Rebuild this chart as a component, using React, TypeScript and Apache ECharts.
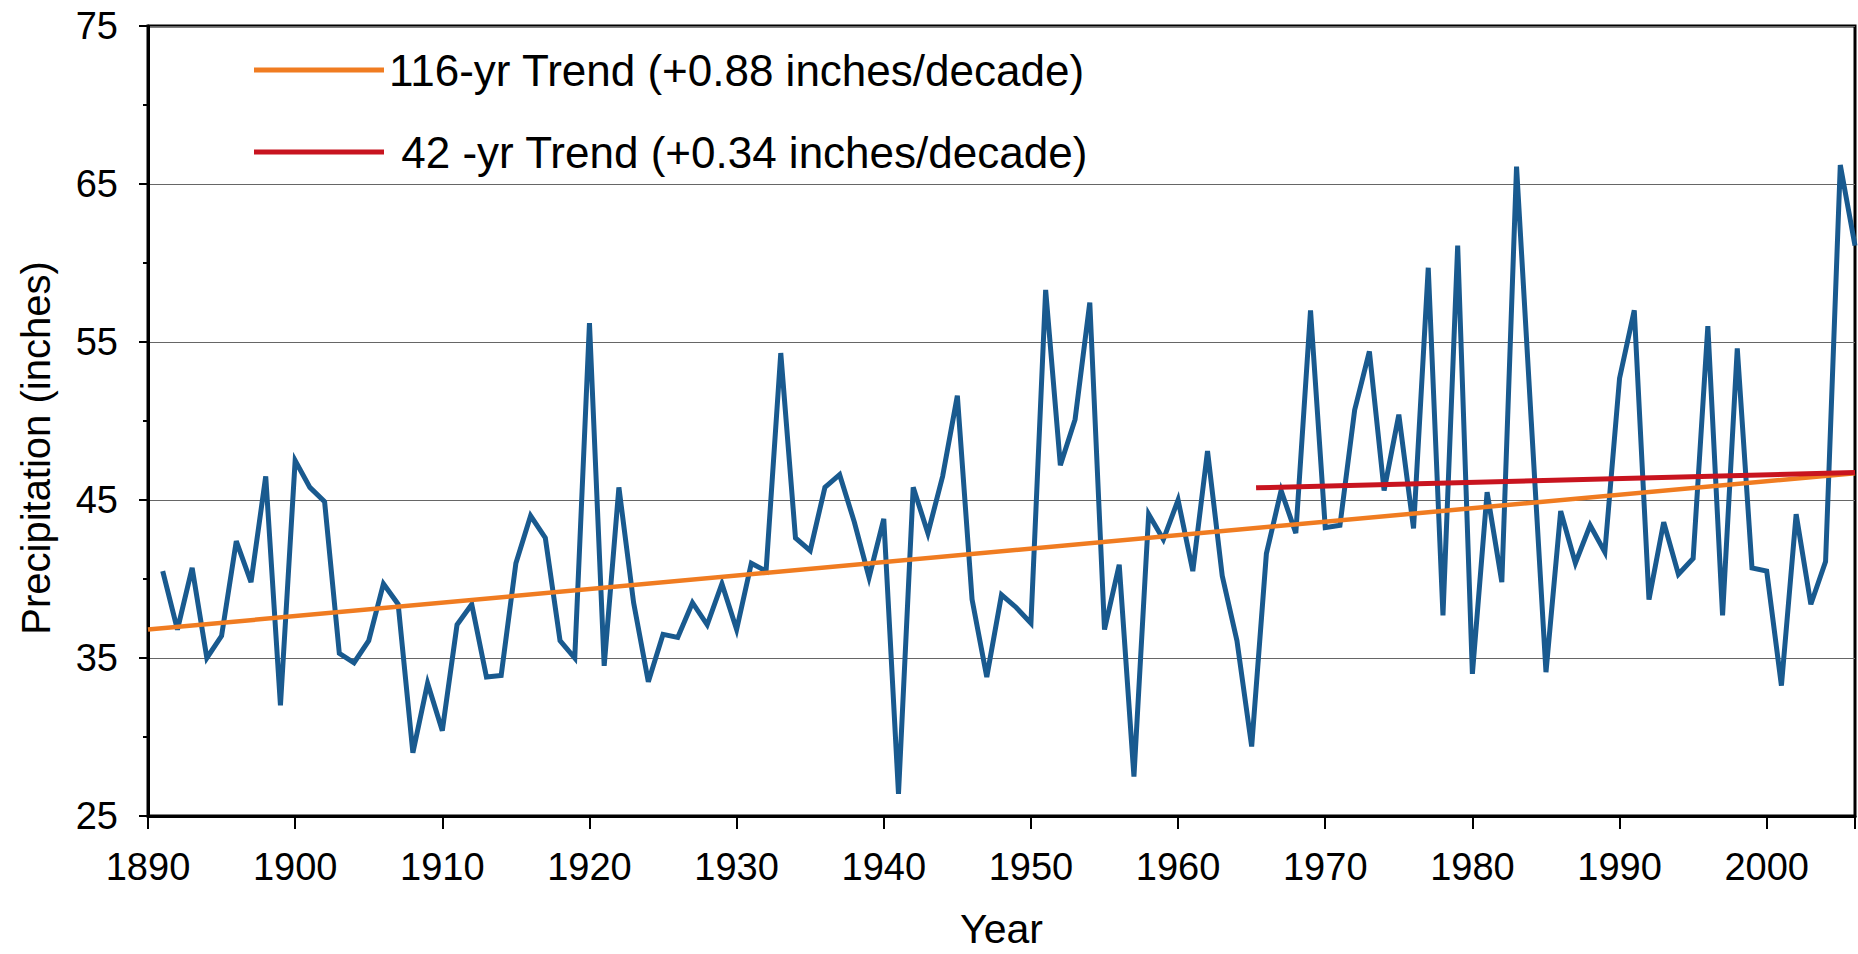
import React, { useEffect, useRef } from "react";
import * as echarts from "echarts";

// Annual precipitation (inches), 1891-2006
const FIRST_YEAR = 1891;
const precipitation: number[] = [
  40.5, 36.8, 40.7, 35.0, 36.4, 42.4, 39.8, 46.5, 32.0, // 1891-1899
  47.5, 45.8, 44.9, 35.3, 34.7, 36.1, 39.7, 38.4, 29.0, 33.4, // 1900-1909
  30.4, 37.1, 38.4, 33.8, 33.9, 41.0, 44.0, 42.6, 36.1, 35.0, // 1910-1919
  56.2, 34.5, 45.8, 38.5, 33.5, 36.5, 36.3, 38.5, 37.1, 39.7, // 1920-1929
  36.8, 41.0, 40.5, 54.3, 42.6, 41.8, 45.8, 46.6, 43.6, 40.1, // 1930-1939
  43.8, 26.4, 45.8, 42.9, 46.5, 51.6, 38.7, 33.8, 39.0, 38.2, // 1940-1949
  37.2, 58.3, 47.2, 50.1, 57.5, 36.8, 40.9, 27.5, 44.1, 42.5, // 1950-1959
  45.0, 40.5, 48.1, 40.2, 36.1, 29.4, 41.6, 45.6, 42.9, 57.0, // 1960-1969
  43.25, 43.4, 50.7, 54.4, 45.6, 50.4, 43.2, 59.7, 37.7, 61.1, // 1970-1979
  34.0, 45.5, 39.8, 66.1, 50.0, 34.1, 44.3, 41.0, 43.4, 41.7, // 1980-1989
  52.7, 57.0, 38.7, 43.6, 40.3, 41.3, 56.0, 37.7, 54.6, 40.7, // 1990-1999
  40.5, 33.25, 44.1, 38.4, 41.1, 66.2, 61.1, // 2000-2006
];
const years: number[] = precipitation.map((_, i) => FIRST_YEAR + i);

// Trend lines: [year, inches] endpoints
const trend116Name = "116-yr Trend (+0.88 inches/decade)";
const trend116: [number, number][] = [
  [1890, 36.8],
  [2006, 46.7],
];
const trend42Name = "\u00a042 -yr Trend (+0.34 inches/decade)";
const trend42: [number, number][] = [
  [1965.3, 45.77],
  [2006, 46.74],
];

const X_MIN = 1890;
const X_MAX = 2006;
const Y_MIN = 25;
const Y_MAX = 75;

const FONT = "'Liberation Sans', Arial, Helvetica, sans-serif";

export default function App() {
  const ref = useRef<HTMLDivElement>(null);

  useEffect(() => {
    if (!ref.current) return;
    const chart = echarts.init(ref.current, null, { renderer: "svg" });
    const seriesData = years.map((y, i) => [y, precipitation[i]]);
    chart.setOption({
      animation: false,
      backgroundColor: "#ffffff",
      textStyle: { fontFamily: FONT },
      grid: {
        left: 148,
        right: 3,
        top: 26,
        bottom: 133,
        show: true,
        borderColor: "#000",
        borderWidth: 3,
        backgroundColor: "transparent",
      },
      legend: {
        data: [trend116Name, trend42Name],
        orient: "vertical",
        left: 249,
        top: 43,
        itemWidth: 130,
        itemHeight: 5,
        itemGap: 38,
        icon: "rect",
        textStyle: { fontSize: 44, color: "#000", fontFamily: FONT },
      },
      xAxis: {
        type: "value",
        min: X_MIN,
        max: X_MAX,
        interval: 10,
        name: "Year",
        nameLocation: "middle",
        nameGap: 92,
        nameTextStyle: { fontSize: 41, color: "#000", fontFamily: FONT },
        axisLine: { show: true, onZero: false, lineStyle: { color: "#000", width: 3 } },
        axisTick: { show: true, length: 13, lineStyle: { color: "#000", width: 2 } },
        axisLabel: {
          fontSize: 38,
          color: "#000",
          margin: 32,
          fontFamily: FONT,
          formatter: (v: number) => (v % 10 === 0 ? String(v) : ""),
        },
        splitLine: { show: false },
      },
      yAxis: {
        type: "value",
        min: Y_MIN,
        max: Y_MAX,
        interval: 10,
        name: "Precipitation (inches)",
        nameLocation: "middle",
        nameGap: 92,
        nameTextStyle: {
          fontSize: 40,
          color: "#000",
          fontFamily: FONT,
          padding: [0, 54, 0, 0],
        },
        axisLine: { show: true, onZero: false, lineStyle: { color: "#000", width: 3 } },
        axisTick: { show: true, length: 9, lineStyle: { color: "#000", width: 2 } },
        minorTick: { show: true, splitNumber: 2, length: 5, lineStyle: { color: "#000", width: 2 } },
        axisLabel: { fontSize: 38, color: "#000", margin: 30, fontFamily: FONT },
        splitLine: { show: true, lineStyle: { color: "#666666", width: 1 } },
      },
      series: [
        {
          name: "Precipitation",
          type: "line",
          data: seriesData,
          showSymbol: false,
          symbol: "none",
          color: "#195a8f",
          lineStyle: { width: 5, color: "#195a8f", join: "miter" },
          z: 2,
        },
        {
          name: trend116Name,
          type: "line",
          data: trend116,
          showSymbol: false,
          symbol: "none",
          color: "#f07c21",
          lineStyle: { width: 4.5, color: "#f07c21" },
          z: 3,
        },
        {
          name: trend42Name,
          type: "line",
          data: trend42,
          showSymbol: false,
          symbol: "none",
          color: "#c8141f",
          lineStyle: { width: 5, color: "#c8141f" },
          z: 4,
        },
      ],
    });
    return () => chart.dispose();
  }, []);

  return (
    <div
      ref={ref}
      style={{ position: "absolute", left: 0, top: 0, width: 1858, height: 954 }}
    />
  );
}
